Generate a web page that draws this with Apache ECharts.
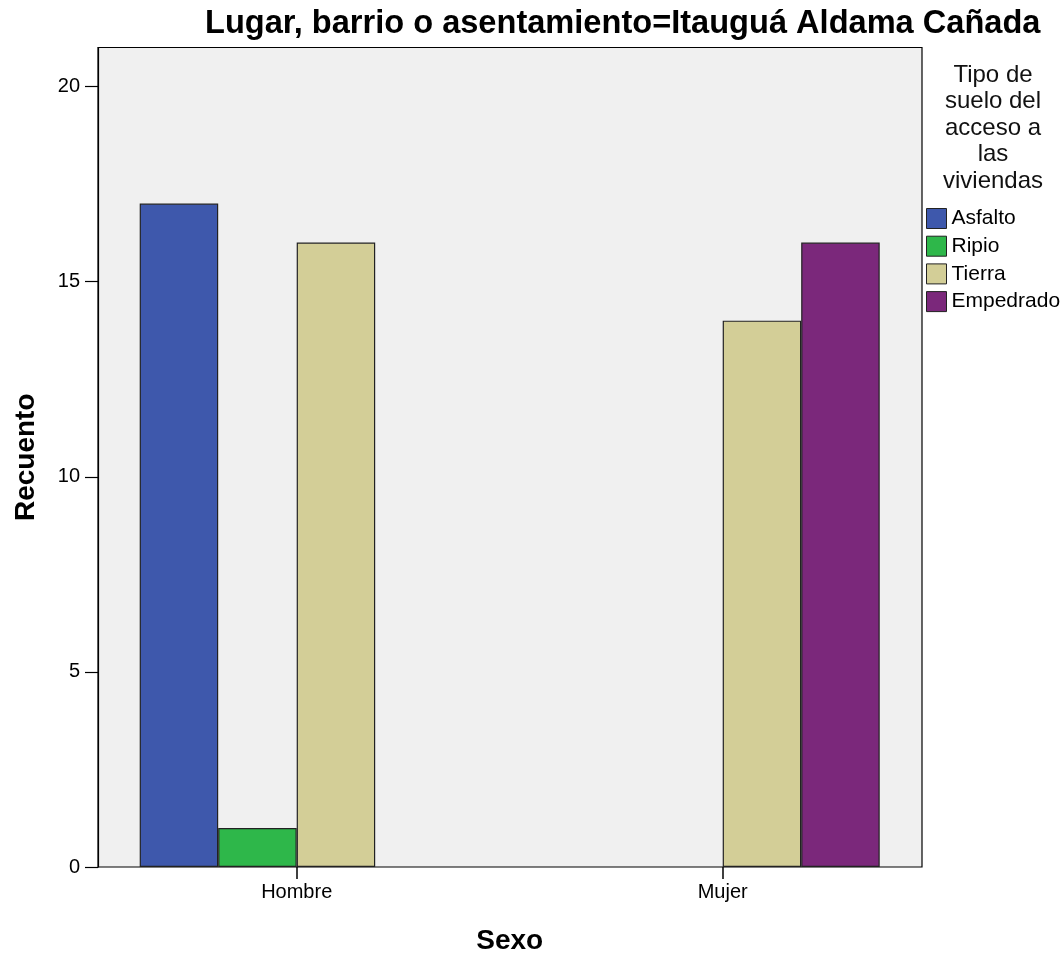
<!DOCTYPE html>
<html>
<head>
<meta charset="utf-8">
<script src="https://cdn.jsdelivr.net/npm/echarts@6/dist/echarts.min.js"></script>
<style>html,body{margin:0;padding:0;background:#fff;}#c{width:1063px;height:960px;}</style>
</head>
<body>
<div id="c"></div>
<script>
const categories = ['Hombre', 'Mujer'];
const seriesNames = ['Asfalto', 'Ripio', 'Tierra', 'Empedrado'];
const asfalto = [17, null];
const ripio = [1, null];
const tierra = [16, 14];
const empedrado = [null, 16];
const yTicks = [0, 5, 10, 15, 20];
const colors = ['#3E58AC', '#2EB74A', '#D3CE97', '#7B287B'];
const titleText = 'Lugar, barrio o asentamiento=Itauguá Aldama Cañada';
const legendTitle = 'Tipo de\nsuelo del\nacceso a\nlas\nviviendas';

const FONT = '"Liberation Sans", Arial, sans-serif';
const chart = echarts.init(document.getElementById('c'), null, {renderer: 'canvas'});
const values = [asfalto, ripio, tierra, empedrado];

const option = {
  animation: false,
  backgroundColor: '#fff',
  title: {
    text: titleText, left: 200, top: 3,
    textStyle: {fontFamily: FONT, fontSize: 32.6, fontWeight: 'bold', color: '#000'}
  },
  graphic: [{
    type: 'text', x: 993, y: 62,
    style: {
      text: legendTitle, fill: '#111',
      font: '24px ' + FONT, align: 'center', verticalAlign: 'top', lineHeight: 26.5
    }
  }],
  legend: {
    orient: 'vertical', left: 926, top: 208, padding: 0,
    itemWidth: 20, itemHeight: 20, itemGap: 6.7,
    icon: 'rect',
    data: seriesNames,
    textStyle: {fontFamily: FONT, fontSize: 21, color: '#000'},
    itemStyle: {borderColor: '#222', borderWidth: 1}
  },
  grid: [
    {left: 83.7, width: 852, top: 47.5, height: 819.5, containLabel: false},
    {left: 98, width: 824, top: 47.5, height: 819.5, show: true, backgroundColor: '#F0F0F0',
     borderColor: '#000', borderWidth: 1.2, z: 0}
  ],
  xAxis: [
    {
      type: 'category', gridIndex: 0, data: categories, boundaryGap: true,
      axisLine: {show: false},
      axisTick: {show: true, alignWithLabel: true, length: 12, lineStyle: {color: '#000', width: 1.5}},
      axisLabel: {fontFamily: FONT, fontSize: 20, color: '#000', margin: 15},
      name: 'Sexo', nameLocation: 'middle', nameGap: 60,
      nameTextStyle: {fontFamily: FONT, fontSize: 28, fontWeight: 'bold', color: '#000'}
    },
    {type: 'value', gridIndex: 1, show: false, min: 0, max: 1}
  ],
  yAxis: [
    {type: 'value', gridIndex: 0, min: 0, max: 21, interval: 5, show: false},
    {
      type: 'value', gridIndex: 1, min: 0, max: 21, interval: 5,
      axisLine: {show: true, lineStyle: {color: '#000', width: 1.2}},
      axisTick: {show: true, length: 13, lineStyle: {color: '#000', width: 1.2},
        customValues: yTicks},
      axisLabel: {fontFamily: FONT, fontSize: 20, color: '#000', margin: 18, customValues: yTicks},
      splitLine: {show: false},
      name: 'Recuento', nameLocation: 'middle', nameGap: 58,
      nameTextStyle: {fontFamily: FONT, fontSize: 28, fontWeight: 'bold', color: '#000'}
    }
  ],
  series: seriesNames.map((n, i) => ({
    name: n, type: 'bar', xAxisIndex: 0, yAxisIndex: 0,
    data: values[i], barWidth: 78.5, barGap: '0%',
    itemStyle: {color: colors[i], borderColor: '#222', borderWidth: 1.2},
    z: 3
  }))
};
chart.setOption(option);
</script>
</body>
</html>
